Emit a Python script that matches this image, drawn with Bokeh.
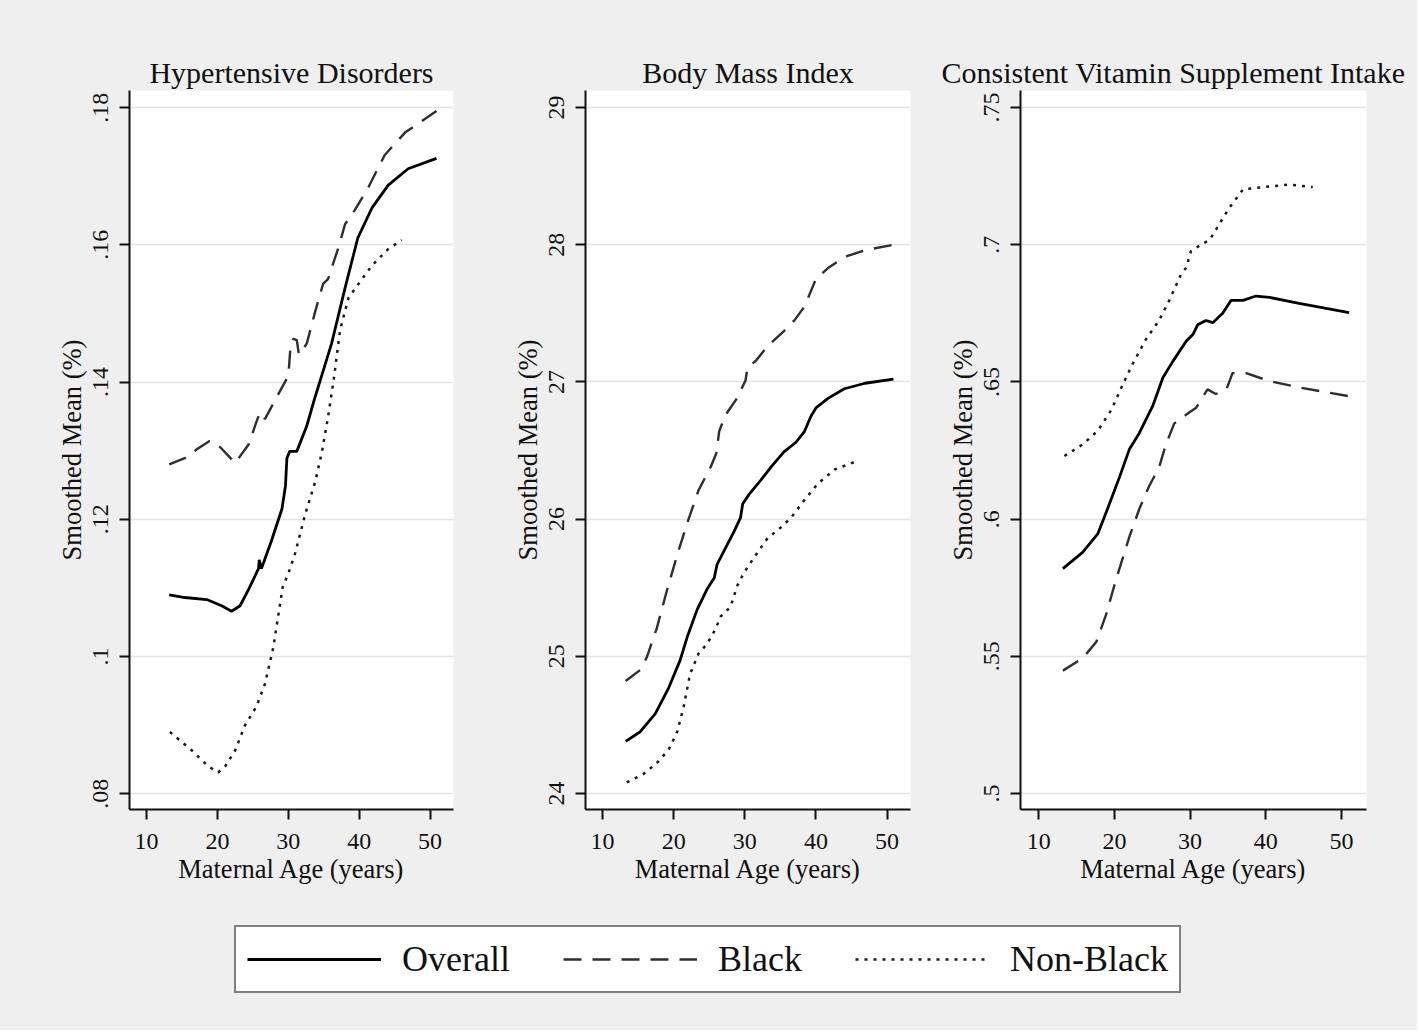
from bokeh.plotting import figure
from bokeh.models import FixedTicker, Legend, LegendItem, Range1d
from bokeh.layouts import row, column
from bokeh.embed import file_html
from bokeh.resources import INLINE

# ---------------- data ----------------
x_ticks = [10, 20, 30, 40, 50]

hyp_ticks = [0.08, 0.10, 0.12, 0.14, 0.16, 0.18]
hyp_tick_labels = [".08", ".1", ".12", ".14", ".16", ".18"]
bmi_ticks = [24, 25, 26, 27, 28, 29]
bmi_tick_labels = ["24", "25", "26", "27", "28", "29"]
vit_ticks = [0.50, 0.55, 0.60, 0.65, 0.70, 0.75]
vit_tick_labels = [".5", ".55", ".6", ".65", ".7", ".75"]

hyp_overall_age = [13.2, 15.4, 18.5, 20.6, 22.0, 23.2, 24.4, 25.8, 25.9, 26.2, 27.6, 29.1, 29.6, 29.8, 30.2,
                   31.2, 32.6, 33.8, 34.7, 36.1, 38.0, 39.8, 41.8, 44.1, 46.9, 50.9]
hyp_overall = [0.1090, 0.1086, 0.1083, 0.1074, 0.1066, 0.1074, 0.1098, 0.1128, 0.1141, 0.1128, 0.1168, 0.1215,
               0.1249, 0.1289, 0.1299, 0.1299, 0.1336, 0.1379, 0.1409, 0.1456, 0.1537, 0.1610, 0.1654, 0.1687,
               0.1711, 0.1726]
hyp_black_age = [13.2, 15.4, 17.1, 18.9, 20.4, 22.5, 24.4, 25.5, 26.0, 26.7, 28.1, 30.0, 30.3, 30.7, 31.2, 31.5,
                 32.6, 33.8, 34.9, 35.6, 37.1, 38.0, 39.4, 41.3, 43.6, 46.5, 50.9]
hyp_black = [0.1280, 0.1289, 0.1302, 0.1314, 0.1305, 0.1282, 0.1309, 0.1342, 0.1356, 0.1346, 0.1373, 0.1409,
             0.1450, 0.1463, 0.1461, 0.1440, 0.1456, 0.1503, 0.1543, 0.1550, 0.1597, 0.1630, 0.1651, 0.1684,
             0.1731, 0.1764, 0.1795]
hyp_nonblack_age = [13.3, 16.4, 18.7, 20.1, 21.1, 22.5, 23.9, 25.5, 26.7, 27.9, 28.8, 29.2, 30.0, 30.9, 32.4,
                    33.8, 34.7, 35.6, 36.4, 37.3, 38.5, 39.9, 41.8, 44.1, 46.0]
hyp_nonblack = [0.0890, 0.0863, 0.0840, 0.0831, 0.0840, 0.0863, 0.0900, 0.0927, 0.0960, 0.1014, 0.1074, 0.1101,
                0.1121, 0.1148, 0.1208, 0.1255, 0.1296, 0.1349, 0.1403, 0.1476, 0.1523, 0.1543, 0.1570, 0.1594,
                0.1607]

bmi_overall_age = [13.25, 15.3, 17.4, 19.3, 20.9, 21.9, 23.3, 24.7, 25.7, 26.1, 27.1, 28.5, 29.4, 29.7, 30.6,
                   32.2, 33.7, 35.5, 37.2, 38.4, 39.3, 40.0, 41.7, 44.0, 46.9, 50.9]
bmi_overall = [24.38, 24.45, 24.58, 24.77, 24.97, 25.14, 25.34, 25.49, 25.57, 25.67, 25.77, 25.91, 26.01, 26.11,
               26.18, 26.28, 26.38, 26.49, 26.56, 26.64, 26.75, 26.81, 26.88, 26.95, 26.99, 27.02]
bmi_black_age = [13.25, 15.3, 16.2, 17.6, 19.0, 20.5, 21.9, 23.5, 25.2, 26.0, 26.4, 27.3, 28.9, 30.1, 30.4, 31.5,
                 33.2, 35.5, 37.0, 38.4, 40.0, 41.7, 44.0, 46.9, 50.9]
bmi_black = [24.82, 24.90, 24.99, 25.20, 25.47, 25.74, 25.97, 26.21, 26.38, 26.48, 26.64, 26.76, 26.88, 27.01,
             27.11, 27.15, 27.26, 27.37, 27.45, 27.55, 27.75, 27.83, 27.91, 27.96, 28.00]
bmi_nonblack_age = [13.4, 15.7, 17.6, 19.3, 20.5, 21.4, 22.3, 23.5, 24.7, 25.9, 26.6, 28.0, 28.9, 29.9, 31.3,
                    33.2, 35.1, 36.5, 38.4, 40.3, 42.6, 46.1]
bmi_nonblack = [24.08, 24.14, 24.22, 24.32, 24.45, 24.63, 24.87, 25.02, 25.09, 25.20, 25.29, 25.36, 25.51, 25.61,
                25.72, 25.86, 25.94, 26.01, 26.14, 26.26, 26.36, 26.43]

vit_overall_age = [13.2, 15.8, 17.8, 19.1, 20.7, 22.0, 23.3, 25.1, 26.4, 27.7, 29.5, 30.4, 31.0, 32.1, 33.0, 34.3,
                   35.4, 37.0, 38.7, 40.5, 44.4, 51.0]
vit_overall = [0.5820, 0.5879, 0.5946, 0.6038, 0.6155, 0.6256, 0.6314, 0.6415, 0.6515, 0.6574, 0.6649, 0.6674,
               0.6708, 0.6724, 0.6716, 0.6750, 0.6797, 0.6797, 0.6813, 0.6808, 0.6786, 0.6753]
vit_black_age = [13.2, 15.8, 17.6, 18.9, 20.2, 22.0, 23.3, 24.6, 25.9, 26.8, 27.9, 29.5, 30.8, 32.3, 33.4, 34.8,
                 35.6, 37.4, 40.5, 44.4, 51.0]
vit_black = [0.5448, 0.5493, 0.5552, 0.5652, 0.5778, 0.5937, 0.6038, 0.6121, 0.6188, 0.6272, 0.6348, 0.6381,
             0.6406, 0.6473, 0.6456, 0.6473, 0.6532, 0.6532, 0.6503, 0.6480, 0.6448]
vit_nonblack_age = [13.4, 15.8, 17.8, 19.6, 21.1, 22.4, 24.2, 25.9, 27.3, 28.8, 29.5, 30.1, 31.5, 32.6, 33.7, 35.2,
                    37.0, 39.6, 43.1, 46.2]
vit_nonblack = [0.6230, 0.6272, 0.6322, 0.6398, 0.6490, 0.6565, 0.6657, 0.6724, 0.6800, 0.6892, 0.6917, 0.6976,
                0.7001, 0.7018, 0.7068, 0.7135, 0.7202, 0.7210, 0.7219, 0.7210]

series_names = ["Overall", "Black", "Non-Black"]

# ---------------- style ----------------
BG = "#efefef"
FONT = "Liberation Serif"
TXT = "#111111"
STYLES = {
    "Overall": dict(line_color="#000000", line_width=2.8, line_dash="solid"),
    "Black": dict(line_color="#2e2e2e", line_width=2.4, line_dash="18 11"),
    "Non-Black": dict(line_color="#1a1a1a", line_width=2.5, line_dash="3 6"),
}
X_RANGE = (7.6, 53.3)
FIG_H = 900


def make_panel(title, ticks, tick_labels, yrange, data, width, left, right, talign, toffset):
    p = figure(width=width, height=FIG_H, x_range=Range1d(*X_RANGE), y_range=Range1d(*yrange),
               output_backend="svg", toolbar_location=None,
               min_border_left=left, min_border_right=right, min_border_top=90, min_border_bottom=91,
               background_fill_color="white", border_fill_color=BG, outline_line_color=None)
    p.title.text = title
    p.title.text_font = FONT
    p.title.text_font_size = "30px"
    p.title.text_font_style = "normal"
    p.title.text_color = TXT
    p.title.align = talign
    p.title.offset = toffset
    p.title.standoff = 4

    p.xaxis.ticker = FixedTicker(ticks=x_ticks)
    p.yaxis.ticker = FixedTicker(ticks=ticks)
    p.yaxis.major_label_overrides = {t: l for t, l in zip(ticks, tick_labels)}
    p.yaxis.major_label_orientation = "vertical"
    p.xaxis.axis_label = "Maternal Age (years)"
    p.yaxis.axis_label = "Smoothed Mean (%)"
    for ax in (p.xaxis, p.yaxis):
        ax.axis_line_width = 2
        ax.axis_line_color = "#111111"
        ax.major_tick_line_width = 2
        ax.major_tick_line_color = "#111111"
        ax.major_tick_out = 10
        ax.major_tick_in = 0
        ax.minor_tick_out = 0
        ax.minor_tick_in = 0
        ax.major_label_text_font = FONT
        ax.major_label_text_font_size = "24px"
        ax.major_label_text_color = TXT
        ax.axis_label_text_font = FONT
        ax.axis_label_text_font_size = "26.5px"
        ax.axis_label_text_font_style = "normal"
        ax.axis_label_text_color = TXT
    p.xaxis.major_label_standoff = 14
    p.xaxis.axis_label_standoff = 2
    p.yaxis.major_label_standoff = 11
    p.yaxis.axis_label_standoff = 4
    p.xgrid.visible = False
    p.ygrid.ticker = FixedTicker(ticks=ticks)
    p.ygrid.grid_line_color = "#e3e3e3"
    p.ygrid.grid_line_width = 1.6

    for name, (xs, ys) in zip(series_names, data):
        p.line(xs, ys, **STYLES[name])
    return p


p1 = make_panel("Hypertensive Disorders", hyp_ticks, hyp_tick_labels, (0.0777, 0.1825),
                [(hyp_overall_age, hyp_overall), (hyp_black_age, hyp_black), (hyp_nonblack_age, hyp_nonblack)],
                465, 129, 12, "center", 0)
p2 = make_panel("Body Mass Index", bmi_ticks, bmi_tick_labels, (23.883, 29.124),
                [(bmi_overall_age, bmi_overall), (bmi_black_age, bmi_black), (bmi_nonblack_age, bmi_nonblack)],
                460, 120, 15, "center", 0)
p3 = make_panel("Consistent Vitamin Supplement Intake", vit_ticks, vit_tick_labels, (0.4942, 0.7562),
                [(vit_overall_age, vit_overall), (vit_black_age, vit_black), (vit_nonblack_age, vit_nonblack)],
                492, 95, 51, "right", -39)

# ---------------- legend strip ----------------
lg = figure(width=1417, height=130, x_range=Range1d(0, 1), y_range=Range1d(0, 1),
            x_axis_location=None, y_axis_location=None,
            output_backend="svg", toolbar_location=None, min_border=0,
            background_fill_color=BG, border_fill_color=BG, outline_line_color=None)
lg.grid.visible = False
items = []
for name in series_names:
    # off-screen stand-in renderers: only their style is shown, as legend glyphs
    r = lg.line(x=[-5, -4], y=[-5, -5], **STYLES[name])
    items.append(LegendItem(label=name, renderers=[r]))
legend = Legend(items=items, orientation="horizontal", location=(234, 37),
                glyph_width=134, glyph_height=40, label_height=40, label_standoff=21,
                spacing=53, padding=11, margin=0,
                border_line_color="#000000", border_line_width=2.5,
                background_fill_color="white", background_fill_alpha=1.0,
                label_text_font=FONT, label_text_font_size="36px", label_text_color=TXT)
lg.add_layout(legend)

layout = column(row(p1, p2, p3, styles={"background-color": BG}), lg,
                styles={"background-color": BG})

open("out.html", "w").write(file_html(layout, INLINE))
